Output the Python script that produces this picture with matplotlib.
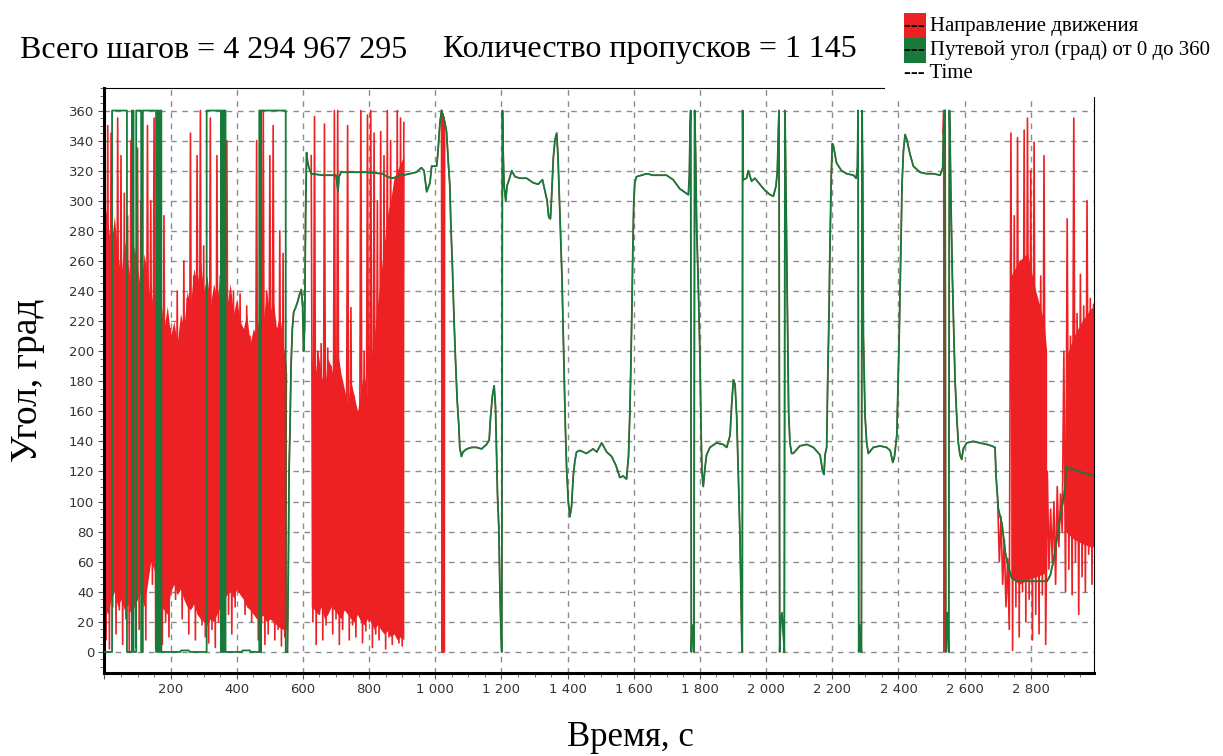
import numpy as np
import matplotlib.pyplot as plt
from matplotlib.patches import Rectangle
from matplotlib.ticker import MultipleLocator, FuncFormatter

RED = '#ed2024'
GREEN = '#177a3a'

# --- green square wave at the start (0 <-> 360 wraps)
sq_t = [0, 23, 23, 68, 68, 83, 83, 88, 88, 96, 96, 111, 111, 116, 116, 156, 156, 159, 159, 163,
        163, 167, 167, 172, 172, 230, 232, 255, 257, 309, 309, 352, 352, 355, 355, 358, 358, 362, 362, 366,
        366, 415, 417, 440, 442, 468, 468, 471, 471, 473, 473, 548, 548, 553]
sq_v = [0, 0, 360, 360, 0, 0, 360, 360, 0, 0, 360, 360, 0, 0, 360, 360, 0, 0, 360, 360,
        0, 0, 360, 360, 0, 0, 1, 1, 0, 0, 360, 360, 0, 0, 360, 360, 0, 0, 360, 360,
        0, 0, 1, 1, 0, 0, 360, 360, 0, 0, 360, 360, 0, 0]

# --- common track (both series agree here)
trk_a_t = [553, 556, 558, 561, 564, 568, 572, 578, 584, 590, 595, 599, 602, 605, 608, 611, 614, 618, 625, 660,
           700, 703, 706, 709, 715, 790, 840, 855, 870, 885, 900, 903]
trk_a_v = [0, 60, 120, 150, 190, 215, 226, 229, 233, 238, 241, 230, 200, 215, 290, 332, 326, 322, 318, 317,
           317, 312, 306, 316, 319, 319, 318, 316, 315, 316, 318, 317]

trk_b_t = [923, 943, 958, 966, 974, 984, 989, 1004, 1006, 1009, 1014, 1019, 1024, 1029, 1034, 1039, 1044, 1047, 1051, 1054,
           1057, 1061, 1066, 1071, 1074, 1079, 1084, 1095, 1110, 1125, 1140, 1155, 1163, 1167, 1173, 1178, 1182, 1185, 1188, 1192,
           1195, 1198, 1201, 1203, 1205, 1208, 1213, 1217, 1223, 1231, 1241, 1256, 1276, 1296, 1311, 1324, 1331, 1338, 1343, 1348,
           1351, 1357, 1362, 1367, 1371, 1375, 1379, 1383, 1386, 1389, 1393, 1397, 1402, 1407, 1412, 1417, 1422, 1427, 1437, 1457,
           1477, 1488, 1503, 1518, 1533, 1546, 1558, 1568, 1578, 1584, 1588, 1591, 1594, 1597, 1600, 1603, 1608]
trk_b_v = [318, 319, 322, 320, 306, 312, 323, 323, 327, 335, 352, 360, 356, 352, 346, 327, 310, 285, 261, 239,
           219, 195, 168, 151, 136, 130, 133, 135, 136, 136, 135, 138, 141, 156, 171, 177, 163, 134, 105, 83,
           46, 17, 0, 360, 334, 310, 300, 310, 314, 320, 316, 315, 315, 312, 311, 314, 307, 300, 289, 288,
           300, 329, 341, 345, 329, 302, 273, 249, 219, 188, 151, 122, 100, 90, 97, 117, 127, 133, 134, 132,
           135, 133, 139, 133, 130, 124, 116, 117, 115, 130, 158, 188, 224, 266, 300, 312, 316]

trk_c_t = [1639, 1659, 1699, 1719, 1739, 1765, 1768, 1770, 1772, 1774, 1776, 1778, 1780, 1782, 1784, 1787, 1790, 1795, 1800, 1803,
           1806, 1810, 1815, 1820, 1830, 1850, 1870, 1881, 1891, 1896, 1901, 1906, 1911, 1916, 1921, 1924, 1927, 1928, 1929, 1931,
           1941, 1946, 1956, 1966, 1981, 1996, 2012, 2022, 2030, 2034, 2037, 2039, 2041, 2044, 2048, 2052, 2055, 2057, 2059, 2062,
           2065, 2068, 2072, 2077, 2082, 2102]
trk_c_v = [318, 317, 317, 314, 308, 304, 317, 346, 360, 0, 15, 8, 18, 0, 360, 330, 283, 244, 197, 152,
           120, 110, 122, 131, 136, 139, 138, 136, 144, 165, 181, 178, 157, 118, 76, 39, 2, 0, 360, 314,
           315, 320, 313, 315, 311, 307, 304, 303, 310, 320, 346, 360, 0, 20, 26, 12, 0, 360, 325, 270,
           212, 160, 139, 132, 132, 137]

trk_d_t = [2123, 2143, 2163, 2171, 2175, 2178, 2183, 2186, 2190, 2193, 2197, 2200, 2203, 2213, 2228, 2244, 2264, 2272, 2276, 2278,
           2280, 2282, 2285, 2288, 2290, 2292, 2294, 2299, 2304, 2309, 2324, 2344, 2364, 2375, 2383, 2388, 2395, 2398, 2402, 2405,
           2408, 2411, 2415, 2420, 2425, 2435, 2445, 2465, 2485, 2506, 2526, 2534, 2536, 2541, 2543, 2545, 2548, 2550, 2552, 2554,
           2556, 2559, 2563, 2566, 2571, 2576, 2581, 2586, 2591, 2596, 2606, 2626, 2647, 2667, 2682, 2692]
trk_d_v = [138, 136, 131, 120, 118, 131, 136, 178, 223, 270, 317, 338, 337, 325, 320, 318, 317, 315, 322, 360,
           0, 18, 10, 0, 360, 317, 210, 157, 139, 132, 136, 137, 136, 134, 126, 130, 144, 170, 207, 241,
           275, 312, 333, 344, 341, 331, 323, 319, 318, 318, 317, 322, 345, 360, 0, 20, 26, 10, 0, 360,
           341, 296, 249, 223, 181, 157, 139, 131, 128, 135, 139, 140, 139, 138, 137, 136]

trk_e_t = [2695, 2702, 2713, 2723, 2733, 2743, 2758, 2849, 2854, 2859, 2869, 2879, 2889, 2899, 2904, 2907, 2990]
trk_e_v = [117, 95, 85, 66, 56, 49, 47, 47, 49, 51, 61, 75, 90, 102, 110, 123, 117]

# --- red only: noisy stretches (peaks every 10 s, troughs in between)
r1_hi = [316, 350, 345, 265, 355, 330, 305, 290, 340, 250, 335, 300, 255, 350, 300, 355, 240, 335, 290, 200,
         215, 190, 240, 200, 260, 235, 345, 250, 330, 360, 270, 210, 355, 230, 330, 250, 240, 340, 210, 240,
         225, 238, 205, 230, 210, 200, 340, 250, 360, 240, 330, 350, 215, 280, 265, 185]
r1_lo = [8, 2, 30, 12, 28, 5, 22, 0, 18, 3, 15, 30, 8, 80, 45, 2, 15, 5, 20, 10,
         48, 35, 40, 22, 45, 12, 30, 8, 25, 18, 10, 6, 15, 3, 20, 8, 35, 25, 12, 30,
         40, 38, 25, 45, 20, 30, 8, 20, 5, 12, 22, 8, 15, 4, 10]
r2_hi = [330, 356, 200, 205, 351, 202, 190, 360, 360, 180, 170, 350, 229, 170, 141, 360, 200, 357, 360, 345,
         300, 346, 330, 360, 340, 224, 360, 355, 352]
r2_lo = [20, 5, 25, 8, 18, 30, 12, 22, 5, 15, 28, 8, 18, 10, 25, 6, 14, 20, 3, 12,
         8, 18, 2, 10, 5, 12, 6, 4]
r3_hi = [100, 90, 75, 62, 345, 290, 342, 260, 347, 355, 320, 339, 226, 250, 330, 120, 95, 100, 110, 105,
         200, 288, 210, 355, 225, 251, 230, 300, 235, 231]
r3_lo = [60, 45, 30, 15, 1, 30, 10, 40, 20, 35, 8, 25, 12, 38, 5, 55, 60, 45, 70, 80,
         40, 55, 38, 60, 25, 50, 40, 65, 45]

# solid band where the red samples overlap completely (one value every 10 s)
c1_hi = [300, 285, 270, 290, 265, 250, 275, 260, 245, 270, 255, 240, 265, 250, 230, 245, 225, 235, 215, 230,
         210, 220, 205, 225, 215, 240, 230, 255, 245, 260, 240, 250, 230, 245, 235, 250, 240, 230, 245, 225,
         235, 220, 215, 225, 205, 215, 210, 230, 220, 240, 225, 235, 215, 225, 205, 190]
c1_lo = [30, 25, 35, 40, 30, 35, 28, 32, 25, 30, 35, 40, 30, 45, 60, 55, 35, 30, 28, 25,
         40, 45, 38, 42, 35, 30, 28, 32, 25, 22, 20, 18, 22, 20, 25, 30, 35, 38, 40, 36,
         42, 38, 35, 30, 28, 25, 22, 25, 24, 20, 22, 20, 18, 16, 15, 15]
c2_hi = [195, 180, 200, 185, 175, 195, 190, 180, 200, 185, 175, 165, 180, 170, 160, 175, 185, 170, 195, 210,
         230, 250, 270, 290, 300, 315, 320, 325, 330]
c2_lo = [30, 28, 25, 30, 22, 25, 30, 28, 25, 22, 28, 25, 22, 20, 25, 20, 18, 22, 20, 15,
         18, 15, 12, 14, 10, 12, 8, 10, 8]
c3a_t = [2740, 2765, 2790, 2815, 2840, 2848]
c3a_hi = [250, 260, 265, 240, 220, 200]
c3a_lo = [50, 45, 48, 50, 52, 55]
c3b_t = [2905, 2930, 2955, 2980, 2991]
c3b_hi = [195, 210, 220, 228, 230]
c3b_lo = [80, 75, 72, 70, 70]

# red wraps through 0/360 where the green does not
wrap1_t = [1019, 1021, 1022, 1024, 1025, 1027, 1028]
wrap1_v = [360, 0, 358, 0, 356, 0, 352]
wrap2_t = [2535, 2537, 2538, 2540]
wrap2_v = [345, 360, 0, 360]


def zigzag(t0, hi, lo):
    t = np.empty(len(hi) + len(lo))
    v = np.empty(len(hi) + len(lo))
    t[0::2] = t0 + 10 * np.arange(len(hi))
    t[1::2] = t0 + 5 + 10 * np.arange(len(lo))
    v[0::2] = hi
    v[1::2] = lo
    return t, v


trk_t = np.concatenate([trk_a_t, trk_b_t, trk_c_t, trk_d_t, trk_e_t])
trk_v = np.concatenate([trk_a_v, trk_b_v, trk_c_v, trk_d_v, trk_e_v])
c1_t = 10 * np.arange(len(c1_hi))
c2_t = 625 + 10 * np.arange(len(c2_hi))

fig = plt.figure(figsize=(12.23, 7.56), dpi=100)
ax = fig.add_axes([0.0854, 0.1098, 0.8091, 0.7738])

for ct, chi, clo in [(c1_t, c1_hi, c1_lo), (c2_t, c2_hi, c2_lo), (c3a_t, c3a_hi, c3a_lo), (c3b_t, c3b_hi, c3b_lo)]:
    ax.fill_between(ct, clo, chi, color=RED, lw=0, zorder=2)
for t0, hi, lo in [(0, r1_hi, r1_lo), (625, r2_hi, r2_lo), (2700, r3_hi, r3_lo)]:
    zt, zv = zigzag(t0, hi, lo)
    ax.plot(zt, zv, color=RED, lw=1.2, zorder=2)
ax.plot(trk_t, trk_v, color=RED, lw=1.0, zorder=2)
ax.plot(wrap1_t, wrap1_v, color=RED, lw=1.3, zorder=2)
ax.plot(wrap2_t, wrap2_v, color=RED, lw=1.3, zorder=2)

ax.plot(sq_t, sq_v, color=GREEN, lw=1.3, zorder=3)
ax.plot(trk_t, trk_v, color=GREEN, lw=1.3, zorder=3)

ax.set_xlim(0, 2991)
ax.set_ylim(-14, 375)
ax.xaxis.set_major_locator(MultipleLocator(200))
ax.xaxis.set_minor_locator(MultipleLocator(50))
ax.yaxis.set_major_locator(MultipleLocator(20))
ax.yaxis.set_minor_locator(MultipleLocator(5))
ax.xaxis.set_major_formatter(FuncFormatter(lambda x, p: f"{int(x):,}".replace(",", " ") if x > 0 else ""))
ax.tick_params(which='both', direction='out', color='#555555', labelsize=9.5, labelcolor='#333333')
ax.tick_params(which='major', length=4, width=0.8)
ax.tick_params(which='minor', length=3, width=0.6)
ax.grid(True, which='major', linestyle=(0, (4, 4)), color='#8c8c8c', lw=1.0)
ax.set_axisbelow(True)
for side in ['left', 'bottom']:
    ax.spines[side].set_linewidth(2.2)
for side in ['top', 'right']:
    ax.spines[side].set_linewidth(0.8)

serif = 'Liberation Serif'
fig.text(20 / 1223, 1 - 50 / 756, "Всего шагов = 4 294 967 295", family=serif, fontsize=23, va='center')
fig.text(443 / 1223, 1 - 50 / 756, "Количество пропусков = 1 145", family=serif, fontsize=23, va='center')
fig.text(28 / 1223, 1 - 380 / 756, "Угол, град", family=serif, fontsize=27, rotation=90, ha='center', va='center')
fig.text(630 / 1223, 1 - 738 / 756, "Время, с", family=serif, fontsize=25, ha='center', va='center')

# legend block (covers the top right corner of the frame)
fig.patches.append(Rectangle((885 / 1223, 1 - 97 / 756), 1, 1, transform=fig.transFigure,
                             facecolor='white', edgecolor='none', zorder=10))
fig.patches.append(Rectangle((904 / 1223, 1 - 38 / 756), 22 / 1223, 25 / 756, transform=fig.transFigure,
                             facecolor=RED, edgecolor='none', zorder=11))
fig.patches.append(Rectangle((904 / 1223, 1 - 63 / 756), 22 / 1223, 25 / 756, transform=fig.transFigure,
                             facecolor=GREEN, edgecolor='none', zorder=11))
for y, label in [(27, "--- Направление движения"), (50, "--- Путевой угол (град) от 0 до 360"), (74, "--- Time")]:
    fig.text(904 / 1223, 1 - y / 756, label, family=serif, fontsize=15, va='center', zorder=12)

fig.savefig('out.png', dpi=100)
